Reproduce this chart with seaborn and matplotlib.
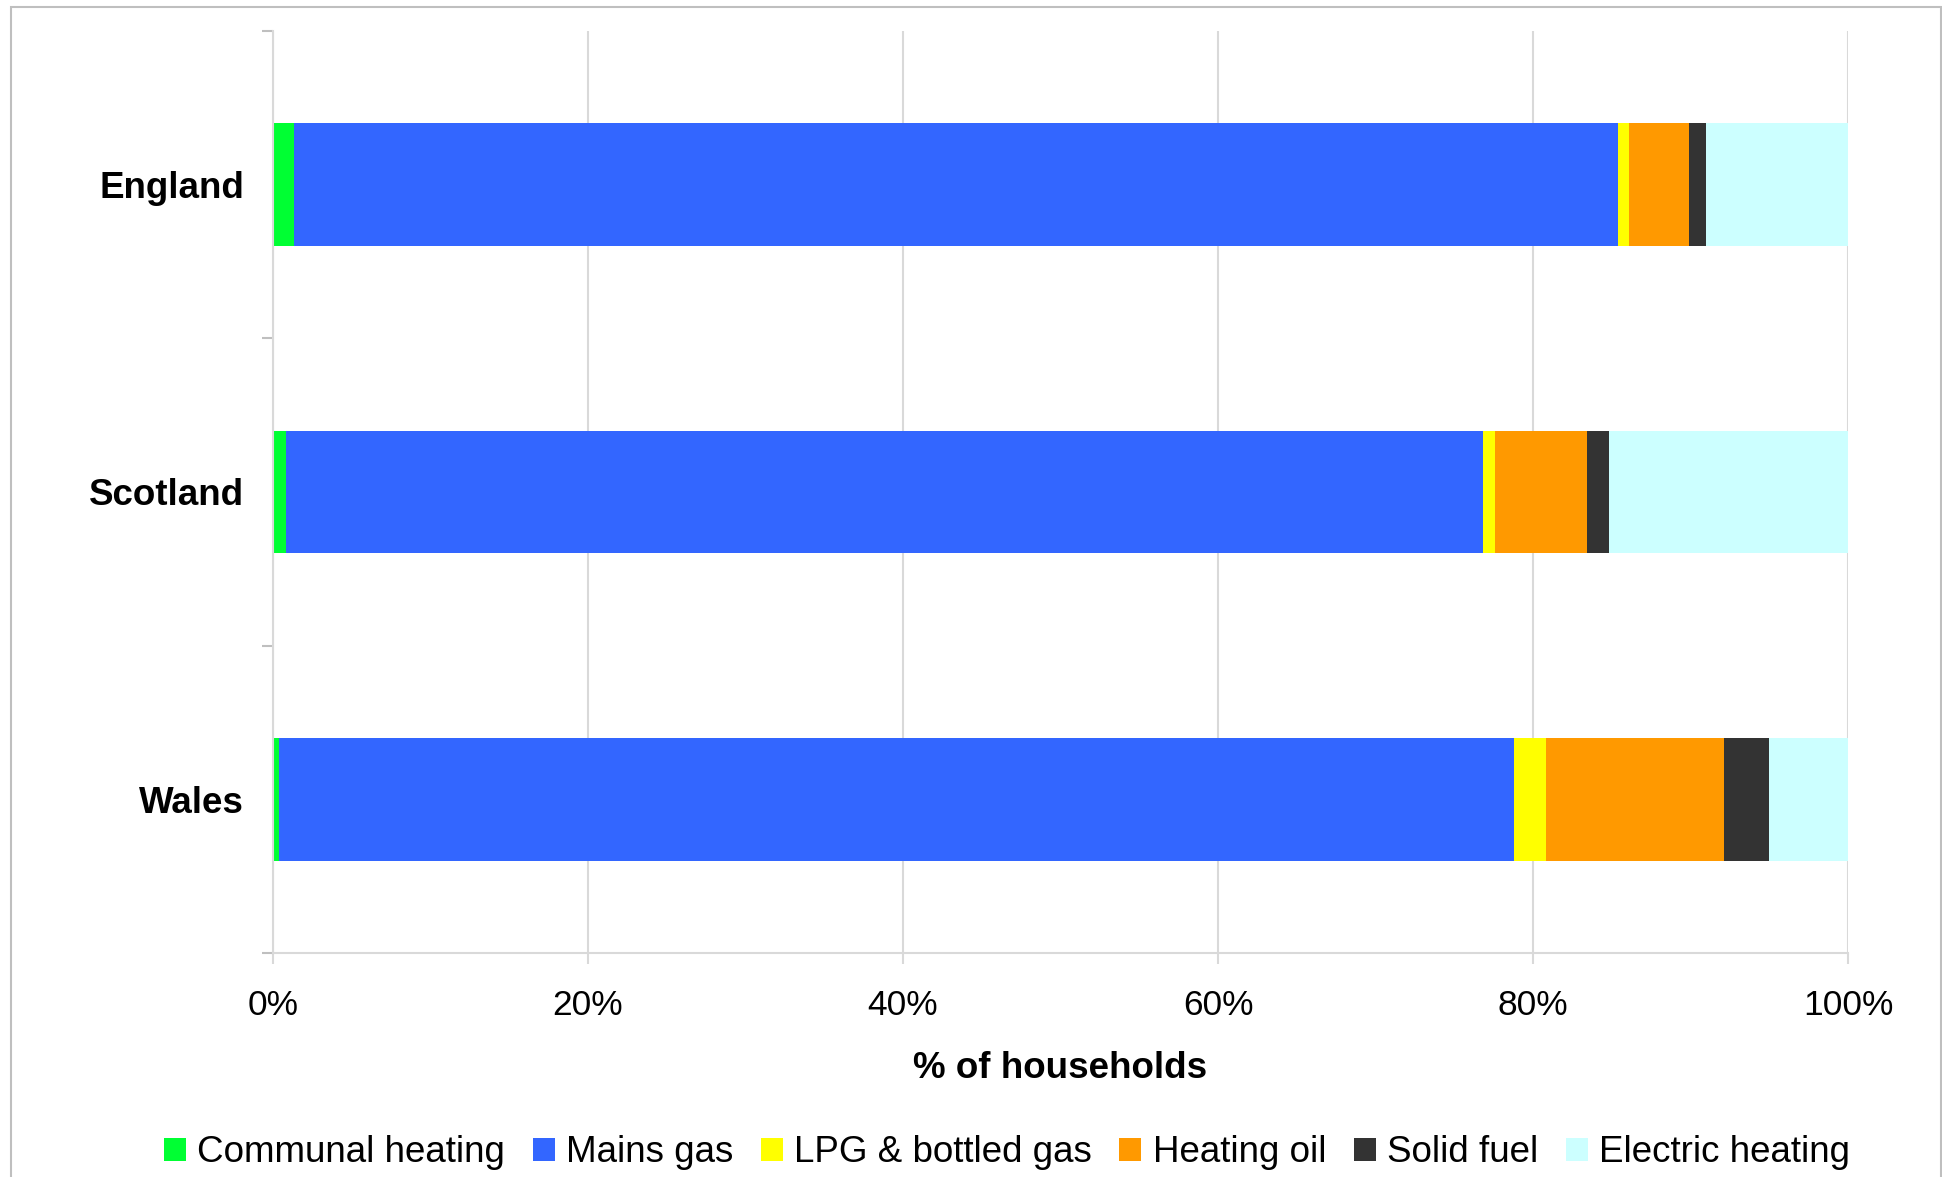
import numpy as np
import pandas as pd
import matplotlib
matplotlib.use("Agg")
import matplotlib.pyplot as plt
import seaborn as sns
from matplotlib.patches import Rectangle, Patch
from matplotlib.ticker import FixedLocator, FuncFormatter

countries = ["England", "Scotland", "Wales"]
series_names = ["Communal heating", "Mains gas", "LPG & bottled gas",
                "Heating oil", "Solid fuel", "Electric heating"]
communal = [1.3, 0.8, 0.4]
mains_gas = [84.1, 76.0, 78.4]
lpg = [0.7, 0.8, 2.0]
heating_oil = [3.8, 5.8, 11.3]
solid_fuel = [1.1, 1.4, 2.9]
electric = [9.0, 15.2, 5.0]
colors = ["#00FF33", "#3366FF", "#FFFF00", "#FF9900", "#333333", "#CCFFFF"]
x_ticks = [0, 20, 40, 60, 80, 100]

sns.set_theme(style="white")
plt.rcParams['font.family'] = ['Liberation Sans', 'DejaVu Sans']

df = pd.DataFrame({"country": countries})
series = [communal, mains_gas, lpg, heating_oil, solid_fuel, electric]
cum = np.cumsum(np.array(series), axis=0)
for name, c in zip(series_names, cum):
    df[name] = c

fig = plt.figure(figsize=(19.42, 11.77), dpi=100)
ax = fig.add_axes([0.1406, 0.1903, 0.9516 - 0.1406, 0.9737 - 0.1903])

for name, col in reversed(list(zip(series_names, colors))):
    sns.barplot(data=df, x=name, y="country", orient="h", color=col,
                saturation=1, width=0.4, linewidth=0, ax=ax, errorbar=None)

ax.set_xlim(0, 100)
ax.set_ylim(2.5, -0.5)
ax.xaxis.set_major_locator(FixedLocator(x_ticks))
ax.xaxis.set_major_formatter(FuncFormatter(lambda v, p: f"{int(v)}%"))
ax.grid(axis="x", color="#d9d9d9", linewidth=1.5)
ax.set_axisbelow(True)
ax.yaxis.set_minor_locator(FixedLocator([-0.5, 0.5, 1.5, 2.5]))

for s in ["top", "right"]:
    ax.spines[s].set_visible(False)
for s in ["left", "bottom"]:
    ax.spines[s].set_visible(True)
    ax.spines[s].set_color("#d9d9d9")
    ax.spines[s].set_linewidth(1.5)

ax.tick_params(axis="x", which="major", direction="out", length=8, width=1.5,
               color="#d9d9d9", labelsize=25.5, pad=18, labelcolor="black",
               bottom=True)
ax.tick_params(axis="y", which="major", length=0, pad=21, labelsize=26.5,
               labelcolor="black")
ax.tick_params(axis="y", which="minor", direction="out", length=8, width=1.5,
               color="#bfbfbf", left=True)
for lab in ax.get_yticklabels():
    lab.set_fontweight("bold")
ax.set_ylabel("")
ax.set_xlabel("% of households", fontsize=26.5, fontweight="bold", labelpad=21,
              color="black")

handles = [Patch(facecolor=c, edgecolor="none") for c in colors]
leg = fig.legend(handles, series_names, loc="center", bbox_to_anchor=(0.5185, 0.0205),
                 ncol=6, frameon=False, fontsize=26.5, handlelength=0.6,
                 handleheight=0.6, handletextpad=0.3, columnspacing=0.75)
for t in leg.get_texts():
    t.set_color("black")

fig.patches.append(Rectangle((11 / 1942, -0.05), (1941 - 11) / 1942, 1.05 - 7 / 1177,
                             transform=fig.transFigure, fill=False,
                             edgecolor="#bfbfbf", linewidth=1.5))

fig.savefig("out.png", dpi=100)
